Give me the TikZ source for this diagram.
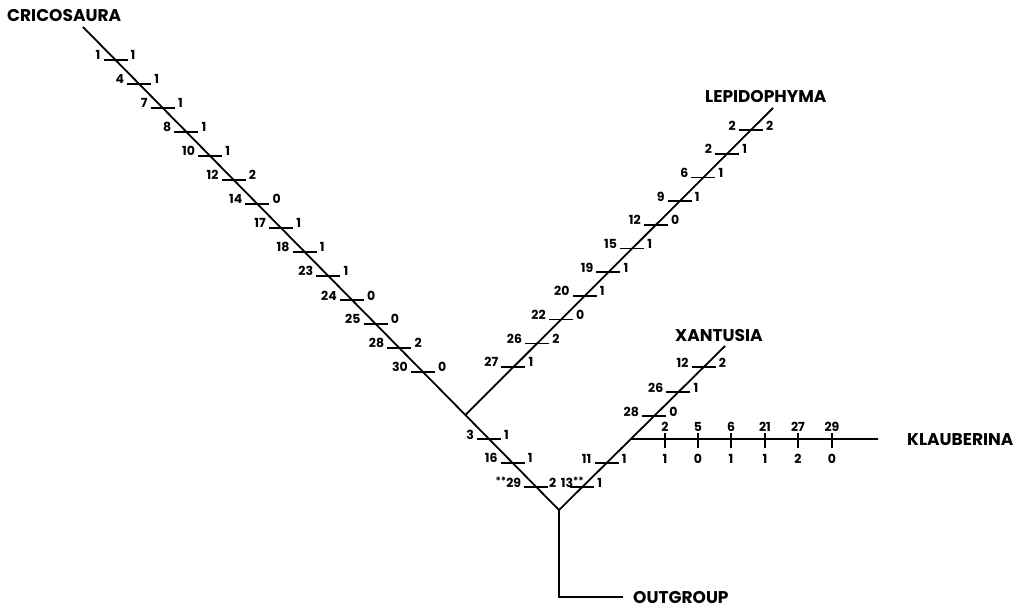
\documentclass[tikz,border=0pt]{standalone}
\usepackage{fontspec}
\setmainfont{Poppins}
\usetikzlibrary{calc}
\tikzset{
  branch/.style={line width=1.8pt},
  tickbar/.style={line width=1.6pt},
  num/.style={inner sep=0pt, font=\fontsize{12.5}{14}\selectfont\bfseries},
  taxon/.style={inner sep=0pt, anchor=base west, font=\fontsize{17}{20}\selectfont\bfseries},
}
\newcommand\dtick[8]{%
  \pgfmathsetmacro\tfr{(#6-#4)/(#5-#4)}%
  \coordinate (#1) at ($(#2)!\tfr!(#3)$);
  \draw[tickbar] ([xshift=-12pt]#1) -- ([xshift=12pt]#1);
  \node[num, anchor=base east] (#1-l) at ([xshift=-15pt]#1) {#7};
  \node[num, anchor=base west] (#1-r) at ([xshift=15pt]#1) {#8};
}
\newcommand\ktick[4]{%
  \coordinate (#1) at ({#2},439);
  \draw[tickbar] ([yshift=6pt]#1) -- ([yshift=-9pt]#1);
  \node[num, anchor=base] (#1-t) at ([yshift=8pt]#1) {#3};
  \node[num, anchor=north] (#1-b) at ([yshift=-15pt]#1) {#4};
}
\newcommand\stars{\raisebox{2.5pt}{\fontsize{10}{10}\selectfont**}}
\begin{document}
\begin{tikzpicture}[x=1pt,y=-1pt]
\useasboundingbox (0,0) rectangle (1028,607);
% branch points
\coordinate (cri) at (83,27);
\coordinate (root) at (559,510);
\coordinate (nodeA) at ($(cri)!{388/483}!(root)$);
\coordinate (lep) at (773,108);
\coordinate (xan) at (725,346);
\coordinate (klnode) at ($(root)!{71/164}!(xan)$);
\coordinate (klend) at (878,439);
\coordinate (og1) at (559,597);
\coordinate (ogend) at (623,597);
% branches
\draw[branch] (cri) -- (nodeA) -- (root) -- (klnode) -- (xan);
\draw[branch] (nodeA) -- (lep);
\draw[branch] (klnode) -- (klend);
\draw[branch] (root) -- (og1) -- (ogend);
% taxa
\node[taxon] (tcri) at (7,22) {CRICOSAURA};
\node[taxon] (tlep) at (705,103) {LEPIDOPHYMA};
\node[taxon] (txan) at (675,341) {XANTUSIA};
\node[taxon] (tkla) at (907,445) {KLAUBERINA};
\node[taxon] (tout) at (633,603) {OUTGROUP};
% Cricosaura ticks
\dtick{c1}{cri}{root}{27}{510}{60}{1}{1}
\dtick{c2}{cri}{root}{27}{510}{84}{4}{1}
\dtick{c3}{cri}{root}{27}{510}{108}{7}{1}
\dtick{c4}{cri}{root}{27}{510}{132}{8}{1}
\dtick{c5}{cri}{root}{27}{510}{156}{10}{1}
\dtick{c6}{cri}{root}{27}{510}{180}{12}{2}
\dtick{c7}{cri}{root}{27}{510}{204}{14}{0}
\dtick{c8}{cri}{root}{27}{510}{228}{17}{1}
\dtick{c9}{cri}{root}{27}{510}{252}{18}{1}
\dtick{c10}{cri}{root}{27}{510}{276}{23}{1}
\dtick{c11}{cri}{root}{27}{510}{300}{24}{0}
\dtick{c12}{cri}{root}{27}{510}{324}{25}{0}
\dtick{c13}{cri}{root}{27}{510}{348}{28}{2}
\dtick{c14}{cri}{root}{27}{510}{372}{30}{0}
% lower left ticks
\dtick{a1}{cri}{root}{27}{510}{439}{3}{1}
\dtick{a2}{cri}{root}{27}{510}{463}{16}{1}
\pgfmathsetmacro\tfr{(487-27)/(510-27)}
\coordinate (a3) at ($(cri)!\tfr!(root)$);
\draw[tickbar] ([xshift=-12pt]a3) -- ([xshift=12pt]a3);
\node[num, anchor=base east] (a3-l) at ([xshift=-15pt]a3) {\stars29};
\node[num, anchor=base west] (a3-r) at ([xshift=12.5pt]a3) {2};
% Lepidophyma ticks
\dtick{l1}{nodeA}{lep}{415}{108}{130}{2}{2}
\dtick{l2}{nodeA}{lep}{415}{108}{153.7}{2}{1}
\dtick{l3}{nodeA}{lep}{415}{108}{177.4}{6}{1}
\dtick{l4}{nodeA}{lep}{415}{108}{201.1}{9}{1}
\dtick{l5}{nodeA}{lep}{415}{108}{224.8}{12}{0}
\dtick{l6}{nodeA}{lep}{415}{108}{248.5}{15}{1}
\dtick{l7}{nodeA}{lep}{415}{108}{272.2}{19}{1}
\dtick{l8}{nodeA}{lep}{415}{108}{295.9}{20}{1}
\dtick{l9}{nodeA}{lep}{415}{108}{319.6}{22}{0}
\dtick{l10}{nodeA}{lep}{415}{108}{343.3}{26}{2}
\dtick{l11}{nodeA}{lep}{415}{108}{367}{27}{1}
% right lower ticks
\dtick{r1}{root}{xan}{510}{346}{463}{11}{1}
\pgfmathsetmacro\tfr{(487-510)/(346-510)}
\coordinate (r2) at ($(root)!\tfr!(xan)$);
\draw[tickbar] ([xshift=-12pt]r2) -- ([xshift=12pt]r2);
\node[num, anchor=base east] (r2-l) at ([xshift=-9pt]r2) {13\rlap{\stars}};
\node[num, anchor=base west] (r2-r) at ([xshift=15pt]r2) {1};
% Xantusia ticks
\dtick{x1}{root}{xan}{510}{346}{367}{12}{2}
\dtick{x2}{root}{xan}{510}{346}{392}{26}{1}
\dtick{x3}{root}{xan}{510}{346}{416}{28}{0}
% Klauberina ticks
\ktick{k1}{665}{2}{1}
\ktick{k2}{698}{5}{0}
\ktick{k3}{731}{6}{1}
\ktick{k4}{765}{21}{1}
\ktick{k5}{798}{27}{2}
\ktick{k6}{832}{29}{0}
\end{tikzpicture}
\end{document}
